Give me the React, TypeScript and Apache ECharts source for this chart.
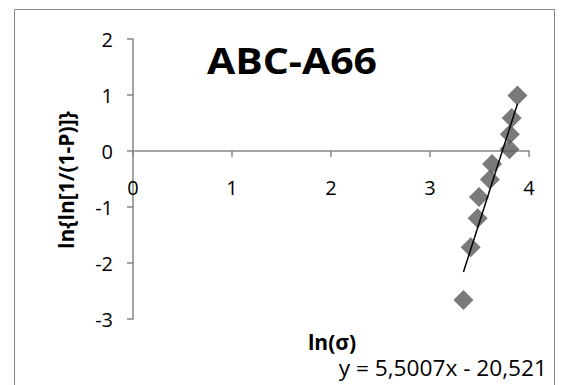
import React, { useEffect, useRef } from "react";
import * as echarts from "echarts";

// Weibull plot data: ln(σ) against ln{ln[1/(1-P)]}
const lnSigma = [3.338, 3.411, 3.481, 3.495, 3.605, 3.627, 3.803, 3.806, 3.825, 3.883];
const lnLnP = [-2.66, -1.72, -1.2, -0.82, -0.51, -0.23, 0.03, 0.3, 0.59, 0.99];

// Linear trend: y = 5,5007x - 20,521
const trendSlope = 5.5007;
const trendIntercept = -20.521;
const equationText = "y = 5,5007x - 20,521";

const chartTitle = "ABC-A66";
const xAxisName = "ln(σ)";
const yAxisName = "ln{ln[1/(1-P)]}";

const FONT = "Open Sans";

export default function App() {
  const ref = useRef<HTMLDivElement>(null);

  useEffect(() => {
    if (!ref.current) return;
    const chart = echarts.init(ref.current, undefined, { renderer: "svg" });

    const points = lnSigma.map((x, i) => [x, lnLnP[i]]);
    const xMin = Math.min(...lnSigma);
    const xMax = Math.max(...lnSigma);
    const trend = [
      [xMin, trendSlope * xMin + trendIntercept],
      [xMax, trendSlope * xMax + trendIntercept],
    ];

    chart.setOption({
      animation: false,
      backgroundColor: "#ffffff",
      grid: { left: 133, right: 37, top: 39, bottom: 66 },
      xAxis: {
        type: "value",
        min: 0,
        max: 4,
        interval: 1,
        axisLine: { onZero: true, lineStyle: { color: "#868686", width: 1.5 } },
        axisTick: { show: true, inside: false, length: 6, lineStyle: { color: "#868686", width: 1.5 } },
        // labels sit just below the zero line rather than at the grid bottom
        axisLabel: { margin: -142, fontFamily: FONT, fontSize: 20, color: "#000" },
        splitLine: { show: false },
      },
      yAxis: {
        type: "value",
        min: -3,
        max: 2,
        interval: 1,
        axisLine: { show: true, lineStyle: { color: "#868686", width: 1.5 } },
        axisTick: { show: true, inside: false, length: 6, lineStyle: { color: "#868686", width: 1.5 } },
        axisLabel: { margin: 20, fontFamily: FONT, fontSize: 20, color: "#000" },
        splitLine: { show: false },
      },
      series: [
        {
          type: "scatter",
          data: points,
          symbol: "diamond",
          symbolSize: 20,
          itemStyle: { color: "#595959" },
          z: 3,
        },
        {
          type: "line",
          data: trend,
          showSymbol: false,
          symbol: "none",
          lineStyle: { color: "#000", width: 1.5 },
          z: 4,
        },
      ],
      graphic: [
        {
          type: "rect",
          shape: { x: 14.5, y: 9.5, width: 540, height: 420 },
          style: { fill: "none", stroke: "#868686", lineWidth: 1 },
          silent: true,
        },
        {
          type: "text",
          x: 292,
          y: 60,
          scaleX: 1.17,
          style: {
            text: chartTitle,
            font: `bold 35px "${FONT}"`,
            fill: "#000",
            textAlign: "center",
            textVerticalAlign: "middle",
          },
        },
        {
          type: "text",
          x: 66,
          y: 180,
          rotation: Math.PI / 2,
          style: {
            text: yAxisName,
            font: `bold 21px "${FONT}"`,
            fill: "#000",
            textAlign: "center",
            textVerticalAlign: "middle",
          },
        },
        {
          type: "text",
          x: 332,
          y: 342,
          style: {
            text: xAxisName,
            font: `bold 21px "${FONT}"`,
            fill: "#000",
            textAlign: "center",
            textVerticalAlign: "middle",
          },
        },
        {
          type: "text",
          x: 547,
          y: 368,
          scaleX: 1.08,
          style: {
            text: equationText,
            font: `21px "${FONT}"`,
            fill: "#000",
            textAlign: "right",
            textVerticalAlign: "middle",
          },
        },
      ],
    });

    return () => chart.dispose();
  }, []);

  return (
    <div
      ref={ref}
      style={{ position: "fixed", left: 0, top: 0, width: 566, height: 385 }}
    />
  );
}
